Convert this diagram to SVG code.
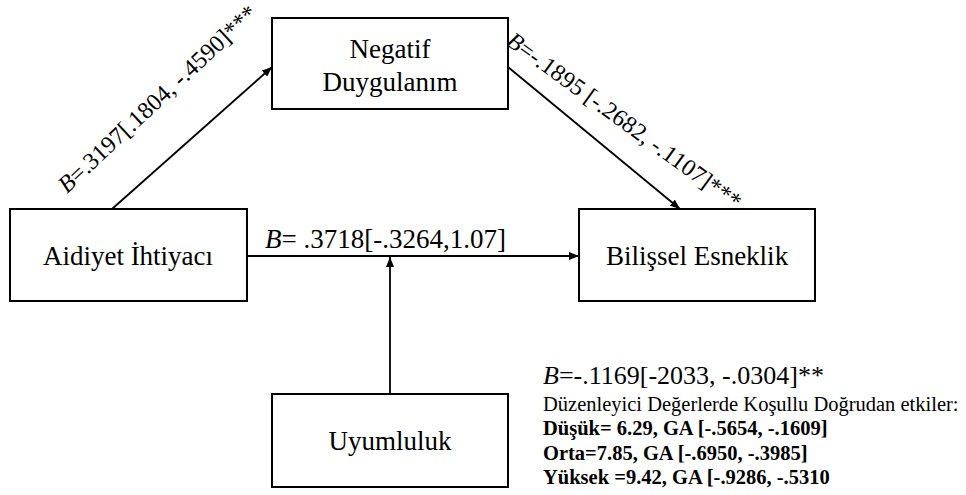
<svg xmlns="http://www.w3.org/2000/svg" width="966" height="495" viewBox="0 0 966 495" font-family="'Liberation Serif', Tinos, 'Times New Roman', Times, 'Nimbus Roman', 'DejaVu Serif', serif">
<style>
text{font-family:'Liberation Serif',Tinos,'Times New Roman',Times,'Nimbus Roman','DejaVu Serif',serif;fill:#000}
.box{fill:#fff;stroke:#000;stroke-width:2}
.lbl{font-size:27px;text-anchor:middle}
.el{font-size:24px}
.sm{font-size:20.5px}
.b{font-weight:bold}
.i{font-style:italic}
.con{stroke:#000;stroke-width:1.8;fill:none}
</style>
<defs>
<marker id="ah" viewBox="0 0 10 8" refX="10" refY="4" markerWidth="10" markerHeight="8" markerUnits="userSpaceOnUse" orient="auto">
<path d="M0,0 L10,4 L0,8 Z" fill="#000"/>
</marker>
</defs>
<g id="connectors">
<line class="con" x1="112" y1="209" x2="272" y2="67" marker-end="url(#ah)"/>
<line class="con" x1="508" y1="67" x2="680" y2="209" marker-end="url(#ah)"/>
<line class="con" x1="247" y1="256" x2="579" y2="256" marker-end="url(#ah)"/>
<line class="con" x1="390" y1="394" x2="390" y2="257" marker-end="url(#ah)"/>
<text class="el" transform="translate(67,194) rotate(-43)"><tspan class="i">B</tspan>=.3197[.1804, -.4590]***</text>
<text class="el" transform="translate(505,44) rotate(36)"><tspan class="i">B</tspan>=-.1895 [-.2682, -.1107]***</text>
<text class="el" x="265" y="248" style="font-size:27px"><tspan class="i">B</tspan>= .3718[-.3264,1.07]</text>
</g>
<g id="negatif">
<rect class="box" x="272" y="18" width="236" height="91"/>
<text class="lbl" x="390" y="58">Negatif</text>
<text class="lbl" x="390" y="91">Duygulanım</text>
</g>
<g id="aidiyet">
<rect class="box" x="10" y="209" width="237" height="92"/>
<text class="lbl" x="128" y="265">Aidiyet İhtiyacı</text>
</g>
<g id="bilissel">
<rect class="box" x="579" y="209" width="236" height="92"/>
<text class="lbl" x="697" y="265">Bilişsel Esneklik</text>
</g>
<g id="uyumluluk">
<rect class="box" x="272" y="394" width="236" height="93"/>
<text class="lbl" x="390" y="450">Uyumluluk</text>
</g>
<g id="notes">
<text class="el" x="543" y="384" style="font-size:26px"><tspan class="i">B</tspan>=-.1169[-2033, -.0304]**</text>
<text class="sm" x="543" y="411">Düzenleyici Değerlerde Koşullu Doğrudan etkiler:</text>
<text class="sm b" x="543" y="435">Düşük= 6.29, GA [-.5654, -.1609]</text>
<text class="sm b" x="543" y="460">Orta=7.85, GA [-.6950, -.3985]</text>
<text class="sm b" x="543" y="484">Yüksek =9.42, GA [-.9286, -.5310</text>
</g>
</svg>
